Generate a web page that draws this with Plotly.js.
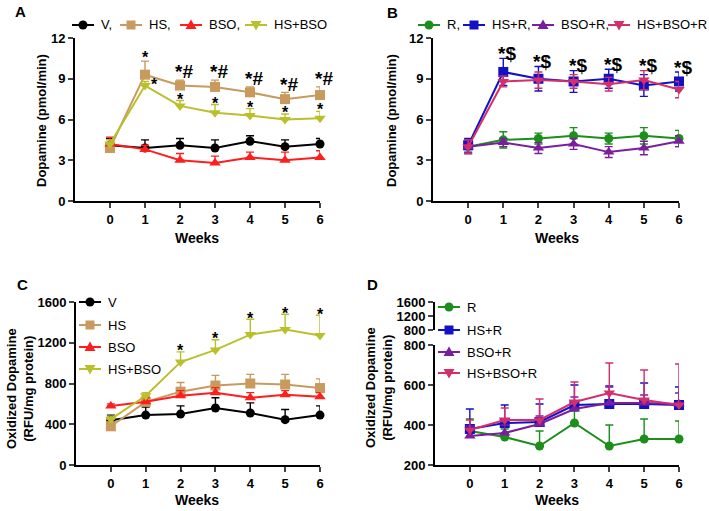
<!DOCTYPE html>
<html>
<head>
<meta charset="utf-8">
<script src="https://cdn.plot.ly/plotly-3.0.1.min.js"></script>
<style>
  html, body { margin: 0; padding: 0; background: #fff; }
  #chart { width: 709px; height: 511px; }
</style>
</head>
<body>
<div id="chart"></div>
<script>
var weeks = [0, 1, 2, 3, 4, 5, 6];

// panel A - dopamine (pmol/min)
var aV        = [4.1, 3.9, 4.1, 3.9, 4.4, 4.0, 4.2];
var aVErr     = [0.5, 0.6, 0.5, 0.6, 0.4, 0.5, 0.4];
var aHS       = [3.9, 9.3, 8.5, 8.4, 8.0, 7.5, 7.8];
var aHSErr    = [0.4, 1.0, 0.4, 0.5, 0.4, 0.5, 0.6];
var aBSO      = [4.2, 3.8, 3.0, 2.8, 3.2, 3.0, 3.2];
var aBSOErr   = [0.5, 0.3, 0.5, 0.5, 0.4, 0.6, 0.5];
var aHSBSO    = [4.2, 8.5, 7.0, 6.5, 6.3, 6.0, 6.1];
var aHSBSOErr = [0.3, 0.3, 0.4, 0.6, 0.5, 0.4, 0.5];

// panel B - dopamine with R
var bR         = [4.0, 4.5, 4.6, 4.8, 4.6, 4.8, 4.6];
var bRErr      = [0.5, 0.6, 0.4, 0.6, 0.4, 0.6, 0.6];
var bHSR       = [4.1, 9.5, 9.0, 8.8, 9.0, 8.5, 8.8];
var bHSRErr    = [0.5, 1.0, 0.9, 0.8, 0.7, 0.8, 0.7];
var bBSOR      = [4.0, 4.3, 3.9, 4.2, 3.6, 3.9, 4.4];
var bBSORErr   = [0.5, 0.3, 0.4, 0.4, 0.4, 0.5, 0.4];
var bHSBSOR    = [4.0, 8.8, 8.9, 8.8, 8.6, 8.9, 8.2];
var bHSBSORErr = [0.5, 0.4, 0.6, 0.5, 0.5, 0.7, 0.6];

// panel C - oxidized dopamine (RFU/mg protein)
var cV        = [440, 490, 500, 560, 510, 445, 490];
var cVErr     = [50, 80, 80, 100, 100, 100, 90];
var cHS       = [380, 620, 720, 780, 800, 790, 755];
var cHSErr    = [40, 50, 90, 100, 90, 100, 90];
var cBSO      = [580, 620, 680, 710, 660, 690, 670];
var cBSOErr   = [20, 40, 50, 50, 50, 40, 40];
var cHSBSO    = [450, 680, 1010, 1130, 1280, 1330, 1270];
var cHSBSOErr = [30, 30, 100, 100, 150, 150, 200];

// panel D - oxidized dopamine with R
var dR         = [370, 340, 295, 410, 295, 330, 330];
var dRErr      = [60, 40, 75, 60, 105, 100, 90];
var dHSR       = [380, 410, 415, 500, 505, 505, 500];
var dHSRErr    = [100, 90, 90, 100, 90, 105, 90];
var dBSOR      = [345, 360, 405, 480, 510, 510, 505];
var dBSORErr   = [50, 40, 40, 60, 80, 40, 55];
var dHSBSOR    = [375, 425, 425, 515, 560, 525, 500];
var dHSBSORErr = [50, 60, 105, 100, 150, 150, 205];

var yTicksA = [0, 3, 6, 9, 12];
var yTicksC = [0, 400, 800, 1200, 1600];
var yTicksD = [200, 400, 600, 800];
var yTicksDTop = [800, 1200, 1600];

var FONT = 'Liberation Sans, Arial, sans-serif';
var W = 709, H = 511;
var zeros = [0, 0, 0, 0, 0, 0, 0];

var colV = '#000000', colHS = '#C89A5E', colBSO = '#FF1E1E', colHSBSO = '#B9C02C';
var colR = '#1B8E1B', colHSR = '#1212C4', colBSOR = '#7A1E9E', colHSBSOR = '#D42E6C';

function series(name, y, err, color, symbol, ax, both) {
  return {
    x: weeks, y: y, name: name,
    type: 'scatter', mode: 'lines+markers',
    xaxis: ax[0], yaxis: ax[1], showlegend: false,
    line: {color: color, width: 2},
    marker: {color: color, symbol: symbol, size: symbol == 'circle' ? 9 : 10},
    error_y: {type: 'data', array: err, arrayminus: both ? err : zeros,
              symmetric: false, color: color, thickness: 1.4, width: 4},
    cliponaxis: false, hoverinfo: 'x+y'
  };
}

var data = [
  series('V', aV, aVErr, colV, 'circle', ['x', 'y']),
  series('HS', aHS, aHSErr, colHS, 'square', ['x', 'y']),
  series('BSO', aBSO, aBSOErr, colBSO, 'triangle-up', ['x', 'y']),
  series('HS+BSO', aHSBSO, aHSBSOErr, colHSBSO, 'triangle-down', ['x', 'y']),

  series('R', bR, bRErr, colR, 'circle', ['x2', 'y2'], true),
  series('HS+R', bHSR, bHSRErr, colHSR, 'square', ['x2', 'y2'], true),
  series('BSO+R', bBSOR, bBSORErr, colBSOR, 'triangle-up', ['x2', 'y2'], true),
  series('HS+BSO+R', bHSBSOR, bHSBSORErr, colHSBSOR, 'triangle-down', ['x2', 'y2'], true),

  series('V', cV, cVErr, colV, 'circle', ['x3', 'y3']),
  series('HS', cHS, cHSErr, colHS, 'square', ['x3', 'y3']),
  series('BSO', cBSO, cBSOErr, colBSO, 'triangle-up', ['x3', 'y3']),
  series('HS+BSO', cHSBSO, cHSBSOErr, colHSBSO, 'triangle-down', ['x3', 'y3']),

  series('R', dR, dRErr, colR, 'circle', ['x4', 'y4']),
  series('HS+R', dHSR, dHSRErr, colHSR, 'square', ['x4', 'y4']),
  series('BSO+R', dBSOR, dBSORErr, colBSOR, 'triangle-up', ['x4', 'y4']),
  series('HS+BSO+R', dHSBSOR, dHSBSORErr, colHSBSOR, 'triangle-down', ['x4', 'y4']),
  // keeps the upper (broken) segment of D drawn
  {x: [null], y: [null], xaxis: 'x4', yaxis: 'y5', showlegend: false, hoverinfo: 'skip', type: 'scatter'}
];

var tickFont = {family: FONT, size: 13, color: '#000', weight: 'bold'};

function xAxis(dom, anchor) {
  return {
    domain: dom, anchor: anchor, range: [-1, 6],
    tickvals: weeks, ticks: 'outside', ticklen: 5, tickwidth: 2,
    showline: true, linewidth: 2, linecolor: '#000',
    showgrid: false, zeroline: false, tickfont: tickFont
  };
}
function yAxis(dom, anchor, range, ticks) {
  return {
    domain: dom, anchor: anchor, range: range,
    tickvals: ticks, ticks: 'outside', ticklen: 5, tickwidth: 2,
    showline: true, linewidth: 2, linecolor: '#000',
    showgrid: false, zeroline: false, tickfont: tickFont
  };
}

function px(a, b) { return [a / W, b / W]; }
function py(t, b) { return [1 - b / H, 1 - t / H]; }

var annotations = [];
var shapes = [];

function text(x, y, str, size, opts) {
  var a = {xref: 'paper', yref: 'paper', x: x / W, y: 1 - y / H, text: str, showarrow: false,
    xanchor: 'center', yanchor: 'middle',
    font: {family: FONT, size: size, color: '#000', weight: 'bold'}};
  for (var k in opts) a[k] = opts[k];
  annotations.push(a);
}
// significance mark at a data point, nudged sideways in pixels
function note(xa, ya, x, y, str, size, shift) {
  annotations.push({xref: xa, yref: ya, x: x, y: y, text: str, showarrow: false,
    xanchor: 'center', yanchor: 'middle', xshift: shift || 0,
    font: {family: FONT, size: size, color: '#000', weight: 'bold'}});
}

// legend key: short line, marker, label
var markerPaths = {
  'triangle-up': 'M-5.5,-4 L5.5,-4 L0,5.5 Z',
  'triangle-down': 'M-5.5,4 L5.5,4 L0,-5.5 Z'
};
function legendKey(x, y, label, color, symbol) {
  var cx = x + 11;
  shapes.push({type: 'line', xref: 'paper', yref: 'paper',
    x0: x / W, x1: (x + 22) / W, y0: 1 - y / H, y1: 1 - y / H,
    line: {color: color, width: 2}});
  var m = {xref: 'paper', yref: 'paper', xsizemode: 'pixel', ysizemode: 'pixel',
    xanchor: cx / W, yanchor: 1 - y / H, fillcolor: color, line: {width: 0}};
  if (symbol == 'circle') { m.type = 'circle'; m.x0 = -4.5; m.x1 = 4.5; m.y0 = -4.5; m.y1 = 4.5; }
  else if (symbol == 'square') { m.type = 'rect'; m.x0 = -4.5; m.x1 = 4.5; m.y0 = -4.5; m.y1 = 4.5; }
  else { m.type = 'path'; m.path = markerPaths[symbol]; }
  shapes.push(m);
  annotations.push({xref: 'paper', yref: 'paper', x: (x + 27) / W, y: 1 - y / H,
    xanchor: 'left', yanchor: 'middle', showarrow: false, text: label,
    font: {family: FONT, size: 13, color: '#000'}});
}

legendKey(72, 25, 'V,', colV, 'circle');
legendKey(120, 25, 'HS,', colHS, 'square');
legendKey(180, 25, 'BSO,', colBSO, 'triangle-up');
legendKey(245, 25, 'HS+BSO', colHSBSO, 'triangle-down');

legendKey(418, 25, 'R,', colR, 'circle');
legendKey(463, 25, 'HS+R,', colHSR, 'square');
legendKey(532, 25, 'BSO+R,', colBSOR, 'triangle-up');
legendKey(608, 25, 'HS+BSO+R', colHSBSOR, 'triangle-down');

legendKey(79, 302, 'V', colV, 'circle');
legendKey(79, 325, 'HS', colHS, 'square');
legendKey(79, 347, 'BSO', colBSO, 'triangle-up');
legendKey(79, 369, 'HS+BSO', colHSBSO, 'triangle-down');

legendKey(438, 307, 'R', colR, 'circle');
legendKey(438, 330, 'HS+R', colHSR, 'square');
legendKey(438, 352, 'BSO+R', colBSOR, 'triangle-up');
legendKey(438, 373, 'HS+BSO+R', colHSBSOR, 'triangle-down');

// panel A marks
note('x', 'y', 1, aHS[1] + aHSErr[1] + 0.3, '*', 16);
note('x', 'y', 1, aHSBSO[1] + 0.1, '*', 16, 9);
for (var i = 2; i < 7; i++) {
  note('x', 'y', weeks[i], aHS[i] + aHSErr[i] + 0.6, '*#', 19, 4);
  note('x', 'y', weeks[i], aHSBSO[i] + aHSBSOErr[i] + 0.1, '*', 16);
}
// panel B marks
for (var i = 1; i < 7; i++) {
  var barTop = Math.max(bHSR[i] + bHSRErr[i], bHSBSOR[i] + bHSBSORErr[i]);
  note('x2', 'y2', weeks[i], barTop + 0.35, '*$', 19, 4);
}
// panel C marks
for (var i = 2; i < 7; i++) {
  note('x3', 'y3', weeks[i], cHSBSO[i] + cHSBSOErr[i] + 10, '*', 16);
}

// panel letters
text(13, 11, 'A', 15, {xanchor: 'left'});
text(385, 12, 'B', 15, {xanchor: 'left'});
text(15, 284, 'C', 15, {xanchor: 'left'});
text(365, 284, 'D', 15, {xanchor: 'left'});

// axis titles
text(197, 238, 'Weeks', 14);
text(557, 238, 'Weeks', 14);
text(197, 500, 'Weeks', 14);
text(557, 500, 'Weeks', 14);
text(42, 121, 'Dopamine (pmol/min)', 13, {textangle: -90});
text(392, 121, 'Dopamine (pmol/min)', 13, {textangle: -90});
text(20, 389, 'Oxidized Dopamine<br>(RFU/mg protein)', 13, {textangle: -90});
text(379, 387, 'Oxidized Dopamine<br>(RFU/mg protein)', 13, {textangle: -90});

var layout = {
  width: W, height: H,
  margin: {l: 0, r: 0, t: 0, b: 0},
  paper_bgcolor: '#fff', plot_bgcolor: 'rgba(0,0,0,0)',
  font: {family: FONT, color: '#000'},
  showlegend: false,
  xaxis: xAxis(px(75, 320), 'y'),
  yaxis: yAxis(py(38, 201), 'x', [0, 12], yTicksA),
  xaxis2: xAxis(px(433, 679), 'y2'),
  yaxis2: yAxis(py(38, 201), 'x2', [0, 12], yTicksA),
  xaxis3: xAxis(px(76, 320), 'y3'),
  yaxis3: yAxis(py(302, 465), 'x3', [0, 1600], yTicksC),
  xaxis4: xAxis(px(435, 679), 'y4'),
  yaxis4: yAxis(py(345, 465), 'x4', [200, 800], yTicksD),
  yaxis5: yAxis(py(302, 330), 'x4', [800, 1600], yTicksDTop),
  annotations: annotations,
  shapes: shapes
};

Plotly.newPlot('chart', data, layout, {displayModeBar: false, staticPlot: true});
</script>
</body>
</html>
